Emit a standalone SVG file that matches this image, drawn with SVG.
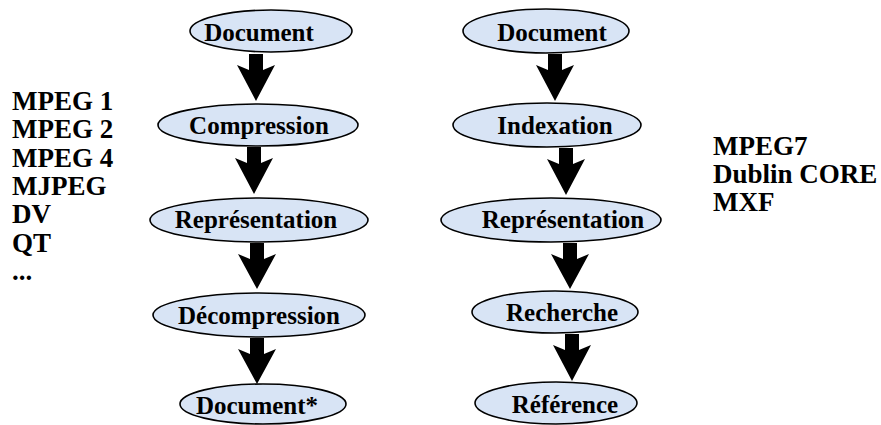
<svg xmlns="http://www.w3.org/2000/svg" width="881" height="425" viewBox="0 0 881 425">
<defs>
<style>
.n ellipse{fill:#d8e4f5;stroke:#000;stroke-width:1.6}
.n text{text-anchor:middle}
.c polygon{fill:#000}
.t{font-family:'Liberation Serif','Times New Roman',Times,serif;font-weight:700;font-size:25px;fill:#000}
.l{font-family:'Liberation Serif','Times New Roman',Times,serif;font-weight:700;font-size:27px;fill:#000}
</style>
</defs>
<rect width="881" height="425" fill="#fff"/>
<g id="connectors" class="c">
<polygon points="249,54 263,54 263,70 275,65 256,101 237,65 249,70"/>
<polygon points="247,147 261,147 261,163 273,158 254,194 235,158 247,163"/>
<polygon points="250,243 264,243 264,259 276,254 257,289 238,254 250,259"/>
<polygon points="250,338 264,338 264,354 276,349 257,384 238,349 250,354"/>
<polygon points="548,54 562,54 562,70 574,65 555,101 536,65 548,70"/>
<polygon points="559,148 573,148 573,164 585,159 566,195 547,159 559,164"/>
<polygon points="563,243 577,243 577,259 589,254 570,289 551,254 563,259"/>
<polygon points="565,334 579,334 579,350 591,345 572,381 553,345 565,350"/>
</g>
<g id="n-doc1" class="n"><ellipse cx="271" cy="31" rx="81" ry="21"/><text class="t" x="259" y="41">Document</text></g>
<g id="n-comp" class="n"><ellipse cx="258" cy="125" rx="100" ry="21"/><text class="t" x="259" y="134">Compression</text></g>
<g id="n-rep1" class="n"><ellipse cx="259" cy="220" rx="109" ry="22"/><text class="t" x="256" y="228">Représentation</text></g>
<g id="n-decomp" class="n"><ellipse cx="259" cy="315" rx="106" ry="22"/><text class="t" x="259" y="324">Décompression</text></g>
<g id="n-doc2" class="n"><ellipse cx="263" cy="404" rx="83" ry="20"/><text class="t" x="257" y="414">Document*</text></g>
<g id="n-doc3" class="n"><ellipse cx="546" cy="31" rx="83" ry="22"/><text class="t" x="552" y="41">Document</text></g>
<g id="n-index" class="n"><ellipse cx="547" cy="125" rx="94" ry="22"/><text class="t" x="555" y="134">Indexation</text></g>
<g id="n-rep2" class="n"><ellipse cx="551" cy="220" rx="110" ry="22"/><text class="t" x="563" y="228">Représentation</text></g>
<g id="n-rech" class="n"><ellipse cx="555" cy="312" rx="83" ry="21"/><text class="t" x="562" y="321">Recherche</text></g>
<g id="n-ref" class="n"><ellipse cx="556" cy="403" rx="81" ry="21"/><text class="t" x="565" y="413">Référence</text></g>
<g id="list-left">
<text class="l" x="12" y="110">MPEG 1</text>
<text class="l" x="12" y="138">MPEG 2</text>
<text class="l" x="12" y="167">MPEG 4</text>
<text class="l" x="12" y="195">MJPEG</text>
<text class="l" x="12" y="223">DV</text>
<text class="l" x="12" y="252">QT</text>
<text class="l" x="12" y="280">...</text>
</g>
<g id="list-right">
<text class="l" x="713" y="155">MPEG7</text>
<text class="l" x="713" y="183">Dublin CORE</text>
<text class="l" x="713" y="211">MXF</text>
</g>
</svg>
